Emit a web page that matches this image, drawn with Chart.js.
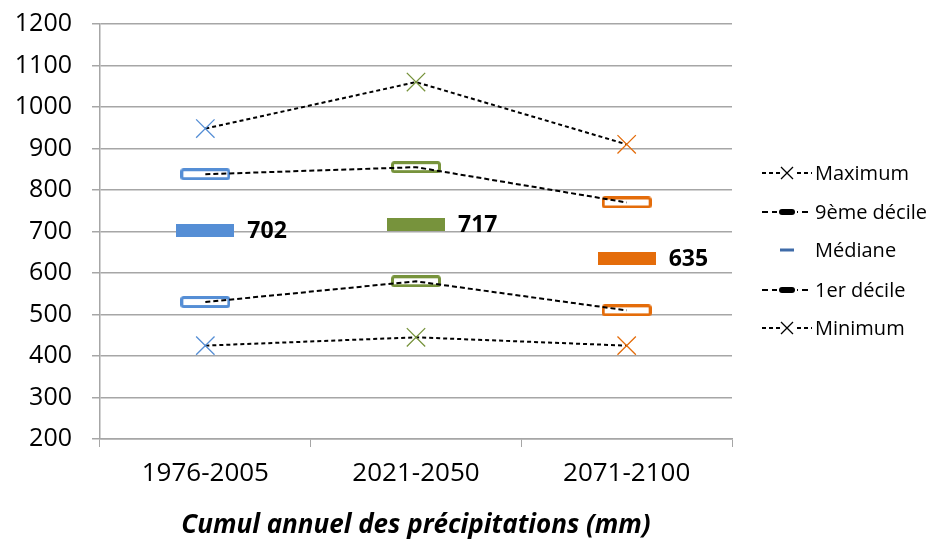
<!DOCTYPE html>
<html>
<head>
<meta charset="utf-8">
<script src="https://cdn.jsdelivr.net/npm/chart.js@4/dist/chart.umd.min.js"></script>
<style>
  html, body { margin: 0; padding: 0; background: #fff; }
  #wrap { width: 929px; height: 547px; position: relative; }
</style>
</head>
<body>
<div id="wrap"><canvas id="c"></canvas></div>
<script>
// Périodes et statistiques du cumul annuel (mm)
const periods   = ['1976-2005', '2021-2050', '2071-2100'];
const maximum   = [948, 1060, 910];
const decile9   = [838, 855, 770];
const median    = [702, 717, 635];
const decile1   = [530, 580, 510];
const minimum   = [425, 445, 425];
const yTicks    = { min: 200, max: 1200, step: 100 };
const legendNames = ['Maximum', '9ème décile', 'Médiane', '1er décile', 'Minimum'];
const xTitle = 'Cumul annuel des précipitations (mm)';

const periodColors = ['#558ED5', '#77933C', '#E46C0A'];
const FONT = '"Open Sans", "Noto Sans", sans-serif';

// Rectangular marker drawn into a small canvas, used as a point style
function boxMarker(color, w, h, filled) {
  const cv = document.createElement('canvas');
  cv.width = w; cv.height = h;
  const g = cv.getContext('2d');
  if (filled) {
    g.fillStyle = color;
    g.fillRect(0, 0, w, h);
  } else {
    const lw = 3;
    g.fillStyle = '#fff';
    g.fillRect(lw / 2, lw / 2, w - lw, h - lw);
    g.strokeStyle = color;
    g.lineWidth = lw;
    g.beginPath();
    g.roundRect(lw / 2, lw / 2, w - lw, h - lw, 2);
    g.stroke();
  }
  return cv;
}
const hollowBoxes = periodColors.map(c => boxMarker(c, 50, 12, false));
const medianBars  = periodColors.map(c => boxMarker(c, 58, 13, true));

const dashed = { borderColor: '#000', borderWidth: 2, borderDash: [5, 3], pointRadius: 0, fill: false };

// Value labels to the right of the median bars
const medianLabels = {
  id: 'medianLabels',
  afterDatasetsDraw(chart) {
    const idx = chart.data.datasets.findIndex(d => d.label === legendNames[2]);
    const meta = chart.getDatasetMeta(idx);
    const ctx = chart.ctx;
    ctx.save();
    ctx.font = 'bold 23px ' + FONT;
    ctx.fillStyle = '#000';
    ctx.textAlign = 'left';
    ctx.textBaseline = 'middle';
    meta.data.forEach((pt, i) => {
      ctx.fillText(String(median[i]), pt.x + 42, pt.y + 1);
    });
    ctx.restore();
  }
};

// Legend at the right of the plot
const sideLegend = {
  id: 'sideLegend',
  afterDraw(chart) {
    const ctx = chart.ctx;
    const x0 = 762, x1 = 812, tx = 815;
    const rows = [173, 212, 250, 290, 328];
    ctx.save();
    legendNames.forEach((name, i) => {
      const y = rows[i];
      const cx = (x0 + x1) / 2;
      ctx.strokeStyle = '#000';
      ctx.fillStyle = '#000';
      if (i === 2) {
        ctx.lineWidth = 3;
        ctx.strokeStyle = '#3F6BA8';
        ctx.beginPath(); ctx.moveTo(cx - 7, y); ctx.lineTo(cx + 7, y); ctx.stroke();
      } else {
        ctx.lineWidth = 2;
        ctx.setLineDash(i === 0 || i === 4 ? [4, 3] : [6, 4]);
        ctx.beginPath(); ctx.moveTo(x0, y); ctx.lineTo(x1, y); ctx.stroke();
        ctx.setLineDash([]);
        if (i === 0 || i === 4) {
          ctx.fillStyle = '#fff';
          ctx.fillRect(cx - 7, y - 6, 14, 12);
          ctx.lineWidth = 1.3;
          ctx.beginPath();
          ctx.moveTo(cx - 6, y - 6); ctx.lineTo(cx + 6, y + 6);
          ctx.moveTo(cx + 6, y - 6); ctx.lineTo(cx - 6, y + 6);
          ctx.stroke();
        } else {
          ctx.fillStyle = '#fff';
          ctx.fillRect(cx - 10, y - 5, 20, 10);
          ctx.fillStyle = '#000';
          ctx.beginPath();
          ctx.roundRect(cx - 8, y - 3, 16, 6, 3);
          ctx.fill();
        }
      }
      ctx.fillStyle = '#000';
      ctx.font = '20px ' + FONT;
      ctx.textAlign = 'left';
      ctx.textBaseline = 'middle';
      ctx.fillText(name, tx, y + 1);
    });
    ctx.restore();
  }
};

const crossSeries = {
  borderColor: '#000', borderWidth: 2, borderDash: [4, 3],
  pointStyle: 'crossRot', pointRadius: 13, pointBorderWidth: 1.3,
  pointBorderColor: periodColors, pointBackgroundColor: periodColors
};

new Chart(document.getElementById('c'), {
  type: 'line',
  data: {
    labels: periods,
    datasets: [
      Object.assign({ label: 'l9', data: decile9, order: 0 }, dashed),
      Object.assign({ label: 'l1', data: decile1, order: 0 }, dashed),
      Object.assign({ label: legendNames[0], data: maximum, order: 1 }, crossSeries),
      {
        label: legendNames[1], data: decile9, order: 2, showLine: false,
        pointStyle: hollowBoxes, pointRadius: 6
      },
      {
        label: legendNames[2], data: median, order: 2, showLine: false,
        pointStyle: medianBars, pointRadius: 6
      },
      {
        label: legendNames[3], data: decile1, order: 2, showLine: false,
        pointStyle: hollowBoxes, pointRadius: 6
      },
      Object.assign({ label: legendNames[4], data: minimum, order: 1 }, crossSeries)
    ]
  },
  options: {
    responsive: true,
    maintainAspectRatio: false,
    animation: false,
    events: [],
    layout: { padding: { top: 24, right: 197, left: 0, bottom: 0 } },
    plugins: { legend: { display: false }, tooltip: { enabled: false } },
    scales: {
      x: {
        offset: true,
        afterFit(s) { s.height = 108; },
        grid: { drawOnChartArea: false, drawTicks: true, tickLength: 8, color: '#A6A6A6', offset: true },
        border: { color: '#A6A6A6', width: 1.5 },
        ticks: { color: '#000', font: { family: FONT, size: 26 }, padding: 11 },
        title: {
          display: true, text: xTitle, color: '#000',
          font: { family: FONT, size: 26, weight: 'bold', style: 'italic' },
          padding: { top: 0, bottom: 6 }
        }
      },
      y: {
        min: yTicks.min, max: yTicks.max,
        afterFit(s) { s.width = 100; s.paddingTop = 0; s.paddingBottom = 0; },
        grid: { color: '#A6A6A6', lineWidth: 1.5, tickLength: 8 },
        border: { color: '#A6A6A6', width: 1.5 },
        ticks: {
          stepSize: yTicks.step, color: '#000', font: { family: FONT, size: 25 }, padding: 20,
          callback: v => String(v)
        }
      }
    }
  },
  plugins: [medianLabels, sideLegend]
});
</script>
</body>
</html>
